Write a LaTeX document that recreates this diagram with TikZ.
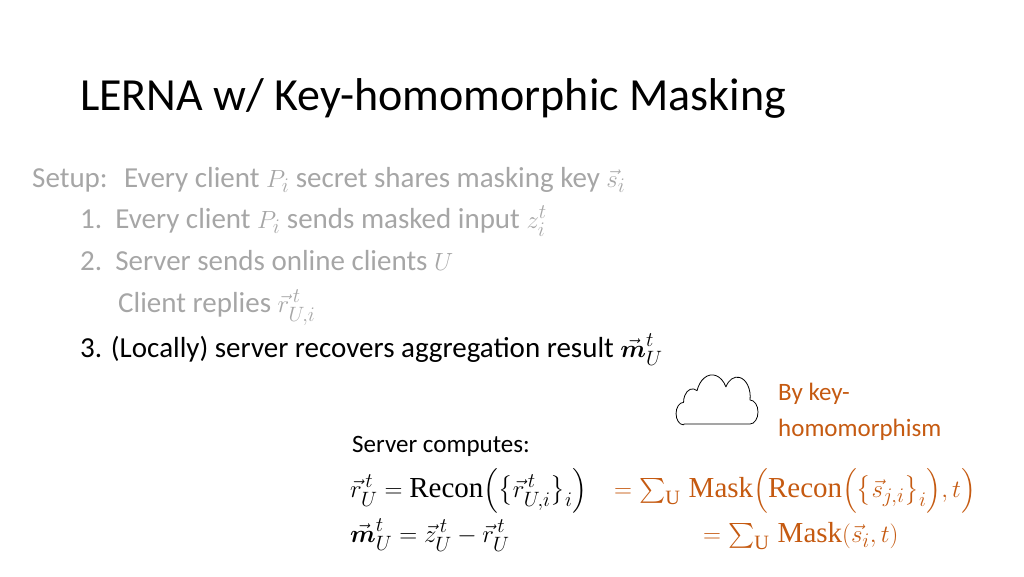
\documentclass[tikz,border=0pt]{standalone}
\usepackage{amsmath}
\usepackage{fontspec}
\setmainfont{Carlito}
\newfontfamily\serf{Liberation Serif}
\definecolor{gr}{HTML}{A6A6A6}
\definecolor{orn}{HTML}{C55A11}
\newcommand{\srm}[1]{\text{\serf #1}}
\begin{document}
\begin{tikzpicture}[x=1pt,y=-1pt,
  txt/.style={anchor=base west,inner sep=0pt,font=\fontsize{29}{32}\selectfont},
  gtxt/.style={txt,text=gr},
  ftxt/.style={anchor=base west,inner sep=0pt,font=\fontsize{25}{28}\selectfont},
  mtxt/.style={anchor=base west,inner sep=0pt,font=\fontsize{29}{31}\selectfont}]
\useasboundingbox (0,0) rectangle (1024,576);
\node[txt,font=\fontsize{46}{50}\selectfont] (title) at (80,110) {LERNA w/ Key-homomorphic Masking};
\node[gtxt] (setup) at (32,187) {Setup:};
\node[gtxt] (s0) at (124,187) {Every client $P_i$ secret shares masking key $\vec{s}_i$};
\node[gtxt] (s1) at (80,228) {1.\ \ Every client $P_i$ sends masked input $z_i^t$};
\node[gtxt] (s2) at (80,270) {2.\ \ Server sends online clients $U$};
\node[gtxt] (s2b) at (118,312) {Client replies $\vec{r}^{\,t}_{U,i}$};
\node[txt] (s3) at (80,357) {3. (Locally) server recovers aggregation result $\vec{\boldsymbol{m}}^t_U$};
% cloud
\begin{scope}[shift={(686,424)},yscale=-1.5]
\draw[thick,line join=round] (-2,0) -- (64,0)
  arc[start angle=-90,end angle=90,radius=8]
  arc[start angle=-10,end angle=150,radius=13]
  arc[start angle=30,end angle=160,radius=16]
  arc[start angle=60,end angle=180,radius=9]
  arc[start angle=90,end angle=270,radius=7.5] -- cycle;
\end{scope}
\node[ftxt,text=orn] (bk1) at (778,400) {By key-};
\node[ftxt,text=orn] (bk2) at (778,436) {homomorphism};
\node[ftxt] (sc) at (352,452) {Server computes:};
\node[mtxt] (e1) at (350,497) {$\vec{r}^{\,t}_U = \srm{Recon}\Bigl(\bigl\{\vec{r}^{\,t}_{U,i}\bigr\}_i\Bigr)$};
\node[mtxt,text=orn] (e1b) at (614,497) {$= \sum\nolimits_{\srm{U}}\,\srm{Mask}\Bigl(\srm{Recon}\Bigl(\bigl\{\vec{s}_{j,i}\bigr\}_i\Bigr),t\Bigr)$};
\node[mtxt] (e2) at (350,542) {$\vec{\boldsymbol{m}}^{t}_U = \vec{z}^{\,t}_U - \vec{r}^{\,t}_U$};
\node[mtxt,text=orn] (e2b) at (703,542) {$= \sum\nolimits_{\srm{U}}\,\srm{Mask}(\vec{s}_i,t)$};
\end{tikzpicture}
\end{document}
